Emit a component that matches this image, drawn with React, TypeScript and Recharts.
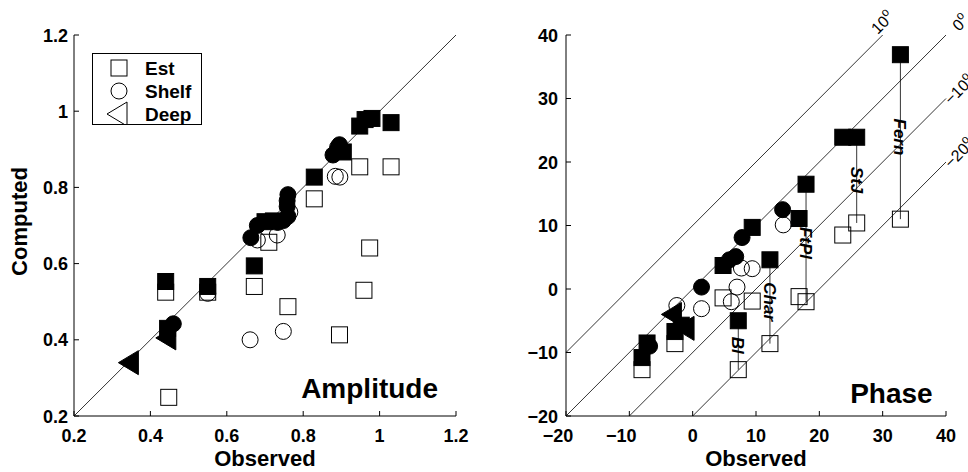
import React from "react";
import { ScatterChart, Scatter, XAxis, YAxis, ReferenceLine, ReferenceDot } from "recharts";

const FONT = '"Liberation Sans", Arial, Helvetica, sans-serif';

// ---- Amplitude panel: [observed, computed]
const ampEstOld: [number, number][] = [
  [0.44, 0.525], [0.55, 0.525], [0.448, 0.249], [0.672, 0.54], [0.71, 0.656], [0.76, 0.487],
  [0.829, 0.77], [0.895, 0.413], [0.948, 0.854], [0.974, 0.641], [0.959, 0.53], [1.03, 0.854],
];
const ampEstNew: [number, number][] = [
  [0.44, 0.553], [0.55, 0.54], [0.445, 0.43], [0.672, 0.594], [0.7, 0.71], [0.722, 0.712],
  [0.829, 0.827], [0.905, 0.893], [0.948, 0.961], [0.962, 0.978], [0.98, 0.981], [1.03, 0.97],
];
const ampShelfOld: [number, number][] = [
  [0.55, 0.522], [0.68, 0.662], [0.732, 0.675], [0.661, 0.4], [0.748, 0.422], [0.884, 0.829],
  [0.896, 0.827], [0.765, 0.735],
];
const ampShelfNew: [number, number][] = [
  [0.46, 0.442], [0.663, 0.668], [0.68, 0.7], [0.733, 0.708], [0.748, 0.713], [0.76, 0.724],
  [0.758, 0.75], [0.758, 0.765], [0.76, 0.781], [0.878, 0.885], [0.89, 0.905], [0.895, 0.912],
];
const ampDeepNew: [number, number][] = [[0.345, 0.34], [0.443, 0.405]];
const ampTicks = [0.2, 0.4, 0.6, 0.8, 1, 1.2];

// ---- Phase panel: [observed, computed]
const phaseEstOld: [number, number][] = [
  [-8.0, -12.7], [-2.8, -8.6], [4.8, -1.4], [9.4, -1.9], [16.8, -1.2], [23.7, 8.5],
];
const phaseEstNew: [number, number][] = [
  [-8.0, -10.8], [-7.2, -8.5], [-2.8, -6.7], [-1.8, -5.7], [4.8, 3.7], [9.4, 9.7],
  [16.8, 11.1], [23.7, 23.9],
];
const phaseShelfOld: [number, number][] = [
  [-2.5, -2.6], [1.4, -3.1], [6.1, -2.0], [7.0, 0.3], [7.7, 3.3], [9.4, 3.2], [14.3, 10.1],
];
const phaseShelfNew: [number, number][] = [
  [-6.8, -9.0], [1.4, 0.3], [5.8, 4.6], [6.8, 5.1], [7.8, 8.1], [14.2, 12.5],
];
const phaseDeepNew: [number, number][] = [[-3.2, -4.0], [-1.2, -6.2]];
const phaseTicks = [-20, -10, 0, 10, 20, 30, 40];

// stations joined by a vertical line (new -> old)
const stationNames = ["Bl", "Char", "FtPl", "StJ", "Fern"];
const stationObs = [7.2, 12.2, 17.9, 25.9, 32.8];
const stationNew = [-5.0, 4.6, 16.5, 23.9, 36.9];
const stationOld = [-12.7, -8.6, -2.0, 10.4, 11.0];

// phase offset lines y = x + k
const offsets = [10, 0, -10, -20];
const offsetLabels = ["10", "0", "\u221210", "\u221220"];
const offsetLabelShift = [[-5, 0], [13, -3], [5, 7], [5, 7]];

const legendLabels = ["Est", "Shelf", "Deep"];

const toPts = (a: [number, number][]) => a.map(([x, y]) => ({ x, y }));
const minus = (v: number) => String(v).replace("-", "\u2212");

// ---- marker shapes
const S = 8;
const square = (fill: string) => (p: any) => (
  <rect x={p.cx - S} y={p.cy - S} width={2 * S} height={2 * S} fill={fill} stroke="#000" strokeWidth={1} />
);
const circle = (fill: string) => (p: any) => (
  <circle cx={p.cx} cy={p.cy} r={S} fill={fill} stroke="#000" strokeWidth={1} />
);
const triangle = (fill: string) => (p: any) => (
  <polygon
    points={`${p.cx - 11},${p.cy} ${p.cx + 9},${p.cy - 12} ${p.cx + 9},${p.cy + 12}`}
    fill={fill}
    stroke="#000"
    strokeWidth={1}
  />
);

// ---- inward ticks on all four sides (tickSize/tickMargin 0 so x/y sit on the axis line)
type Side = "bottom" | "top" | "left" | "right";
const makeTick = (side: Side, fmt?: (v: number) => string, gap = 6) => (props: any) => {
  const { x, y, payload } = props;
  const v = payload.value;
  const L = 5;
  const txt = { fontFamily: FONT, fontSize: 18, fontWeight: 700, fill: "#000" } as const;
  let line = null;
  let label = null;
  if (side === "bottom") {
    line = <line x1={x} x2={x} y1={y} y2={y - L} stroke="#000" />;
    if (fmt)
      label = (
        <text x={x + (v < 0 ? -8 : 0)} y={y + 26} textAnchor="middle" {...txt}>
          {fmt(v)}
        </text>
      );
  } else if (side === "top") {
    line = <line x1={x} x2={x} y1={y} y2={y + L} stroke="#000" />;
  } else if (side === "left") {
    line = <line x1={x} x2={x + L} y1={y} y2={y} stroke="#000" />;
    if (fmt)
      label = (
        <text x={x - gap} y={y + 6.5} textAnchor="end" {...txt}>
          {fmt(v)}
        </text>
      );
  } else {
    line = <line x1={x} x2={x - L} y1={y} y2={y} stroke="#000" />;
  }
  return (
    <g>
      {line}
      {label}
    </g>
  );
};

const observedLabel = (p: any) => {
  const vb = p.viewBox;
  return (
    <text x={vb.x + vb.width / 2} y={vb.y + 50} textAnchor="middle" fontFamily={FONT} fontSize={22} fontWeight={700}>
      Observed
    </text>
  );
};
const computedLabel = (p: any) => {
  const vb = p.viewBox;
  return (
    <text
      transform={`translate(${vb.x + 27},${vb.y + vb.height / 2 - 4}) rotate(-90)`}
      textAnchor="middle"
      fontFamily={FONT}
      fontSize={22}
      fontWeight={700}
    >
      Computed
    </text>
  );
};

const panelTitle = (text: string) => (p: any) => (
  <text x={p.cx} y={p.cy} textAnchor="end" fontFamily={FONT} fontSize={28} fontWeight={700}>
    {text}
  </text>
);

const axisCommon = {
  type: "number" as const,
  tickLine: false,
  tickSize: 0,
  tickMargin: 0,
  interval: 0 as const,
  axisLine: { stroke: "#000", strokeWidth: 1 },
};

function AmplitudePanel() {
  const d: [number, number] = [0.2, 1.2];
  return (
    <ScatterChart width={484} height={472} margin={{ top: 35, right: 28, bottom: 0, left: 0 }}>
      <XAxis {...axisCommon} dataKey="x" domain={d} ticks={ampTicks} height={56} tick={makeTick("bottom", String)} label={observedLabel} />
      <XAxis {...axisCommon} xAxisId="top" orientation="top" domain={d} ticks={ampTicks} height={0} tick={makeTick("top")} />
      <YAxis {...axisCommon} dataKey="y" domain={d} ticks={ampTicks} width={74} tick={makeTick("left", String, 6)} label={computedLabel} />
      <YAxis {...axisCommon} yAxisId="right" orientation="right" domain={d} ticks={ampTicks} width={0} tick={makeTick("right")} />
      <ReferenceLine segment={[{ x: 0.2, y: 0.2 }, { x: 1.2, y: 1.2 }]} stroke="#000" strokeWidth={0.8} ifOverflow="visible" />
      <Scatter data={toPts(ampEstOld)} shape={square("none")} isAnimationActive={false} />
      <Scatter data={toPts(ampShelfOld)} shape={circle("none")} isAnimationActive={false} />
      <Scatter data={toPts(ampEstNew)} shape={square("#000")} isAnimationActive={false} />
      <Scatter data={toPts(ampShelfNew)} shape={circle("#000")} isAnimationActive={false} />
      <Scatter data={toPts(ampDeepNew)} shape={triangle("#000")} isAnimationActive={false} />
      <ReferenceDot x={1.153} y={0.248} ifOverflow="visible" shape={panelTitle("Amplitude")} />
    </ScatterChart>
  );
}

function PhasePanel() {
  const d: [number, number] = [-20, 40];
  return (
    <ScatterChart width={484} height={472} margin={{ top: 35, right: 22, bottom: 0, left: 0 }} style={{ overflow: "visible" }}>
      <XAxis {...axisCommon} dataKey="x" domain={d} ticks={phaseTicks} height={56} tick={makeTick("bottom", minus)} label={observedLabel} />
      <XAxis {...axisCommon} xAxisId="top" orientation="top" domain={d} ticks={phaseTicks} height={0} tick={makeTick("top")} />
      <YAxis {...axisCommon} dataKey="y" domain={d} ticks={phaseTicks} width={82} tick={makeTick("left", minus, 8)} />
      <YAxis {...axisCommon} yAxisId="right" orientation="right" domain={d} ticks={phaseTicks} width={0} tick={makeTick("right")} />
      {offsets.map((k) => {
        const x0 = Math.max(-20, -20 - k);
        const x1 = Math.min(40, 40 - k);
        return (
          <ReferenceLine key={k} segment={[{ x: x0, y: x0 + k }, { x: x1, y: x1 + k }]} stroke="#000" strokeWidth={0.8} ifOverflow="visible" />
        );
      })}
      {offsets.map((k, i) => {
        const x1 = Math.min(40, 40 - k);
        const [dx, dy] = offsetLabelShift[i];
        return (
          <ReferenceDot
            key={"l" + k}
            x={x1}
            y={x1 + k}
            ifOverflow="visible"
            shape={(p: any) => (
              <text transform={`translate(${p.cx + dx},${p.cy + dy}) rotate(-45)`} fontFamily={FONT} fontSize={16}>
                {offsetLabels[i]}
                <tspan dy={-7} fontSize={12}>o</tspan>
              </text>
            )}
          />
        );
      })}
      {stationNames.map((n, i) => (
        <ReferenceLine
          key={n}
          segment={[{ x: stationObs[i], y: stationNew[i] }, { x: stationObs[i], y: stationOld[i] }]}
          stroke="#000"
          strokeWidth={0.8}
          ifOverflow="visible"
        />
      ))}
      <Scatter data={toPts([...phaseEstOld, ...stationObs.map((x, i) => [x, stationOld[i]] as [number, number])])} shape={square("none")} isAnimationActive={false} />
      <Scatter data={toPts(phaseShelfOld)} shape={circle("none")} isAnimationActive={false} />
      <Scatter data={toPts([...phaseEstNew, ...stationObs.map((x, i) => [x, stationNew[i]] as [number, number])])} shape={square("#000")} isAnimationActive={false} />
      <Scatter data={toPts(phaseShelfNew)} shape={circle("#000")} isAnimationActive={false} />
      <Scatter data={toPts(phaseDeepNew)} shape={triangle("#000")} isAnimationActive={false} />
      {stationNames.map((n, i) => (
        <ReferenceDot
          key={"s" + n}
          x={stationObs[i]}
          y={(stationNew[i] + stationOld[i]) / 2}
          ifOverflow="visible"
          shape={(p: any) => (
            <text
              transform={`translate(${p.cx},${p.cy}) rotate(90)`}
              textAnchor="middle"
              dy="0.35em"
              fontFamily={FONT}
              fontSize={17}
              fontWeight={700}
              fontStyle="italic"
            >
              {n}
            </text>
          )}
        />
      ))}
      <ReferenceDot x={37.9} y={-17.95} ifOverflow="visible" shape={panelTitle("Phase")} />
    </ScatterChart>
  );
}

function AmpLegend() {
  const rowY = [14, 37, 60];
  const mx = 26;
  return (
    <div style={{ position: "absolute", left: 92, top: 53, width: 110, height: 72, border: "1.3px solid #000", boxSizing: "border-box", background: "#fff" }}>
      <svg width={108} height={70} style={{ display: "block" }}>
        {legendLabels.map((l, i) => {
          const y = rowY[i];
          const p = { cx: mx, cy: y };
          const mark = i === 0 ? square("none")(p) : i === 1 ? circle("none")(p) : triangle("none")({ cx: mx - 1, cy: y });
          return (
            <g key={l}>
              {mark}
              <text x={52} y={y + 7} fontFamily={FONT} fontSize={19} fontWeight={700}>
                {l}
              </text>
            </g>
          );
        })}
      </svg>
    </div>
  );
}

export default function App() {
  return (
    <div style={{ position: "absolute", left: 0, top: 0, width: 968, height: 472, background: "#fff", overflow: "hidden" }}>
      <div style={{ position: "absolute", left: 0, top: 0 }}>
        <AmplitudePanel />
      </div>
      <AmpLegend />
      <div style={{ position: "absolute", left: 484, top: 0 }}>
        <PhasePanel />
      </div>
    </div>
  );
}
